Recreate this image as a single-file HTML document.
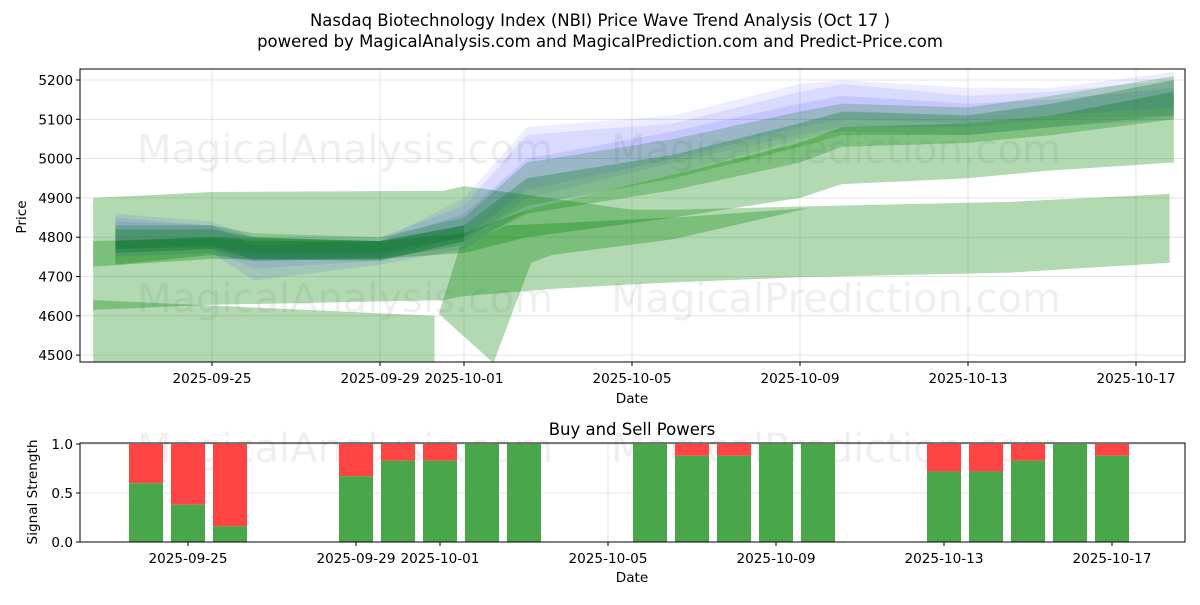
<!DOCTYPE html>
<html><head><meta charset="utf-8">
<style>
html,body{margin:0;padding:0;background:#fff;}
svg text{font-family:"DejaVu Sans","Liberation Sans",sans-serif;fill:#000;}
</style></head>
<body>
<svg id="chart" width="1200" height="600" viewBox="0 0 1200 600" xmlns="http://www.w3.org/2000/svg">
<text x="600" y="26" font-size="16.5" text-anchor="middle">Nasdaq Biotechnology Index (NBI) Price Wave Trend Analysis (Oct 17 )</text>
<text x="600" y="47" font-size="16.5" text-anchor="middle">powered by MagicalAnalysis.com and MagicalPrediction.com and Predict-Price.com</text>
<g id="main"></g>
<g id="sub"></g>
</svg>
<script>
// ---- data ----
const xTickLabels = ["2025-09-25","2025-09-29","2025-10-01","2025-10-05","2025-10-09","2025-10-13","2025-10-17"];
const xTickDays = [3,7,9,13,17,21,25]; // days since 2025-09-22
const yTicks = [4500,4600,4700,4800,4900,5000,5100,5200];
// light wide band
const wideBandDays = [0.17,3,8.5,9,11,13,14,17,22,25.8];
const wideBandUpper = [4900,4915,4918,4930,4900,4870,4870,4878,4890,4910];
const wideBandLower = [4615,4628,4640,4650,4668,4680,4685,4698,4710,4735];
const lowBandDays = [0.17,8.3];
const lowBandUpper = [4640,4600];
const lowBandLower = [4480,4480];
const steepUpDays = [8.4,8.9,10,14,17.2];
const steepUpper = [4605,4775,4830,4850,4874];
const steepLowDays = [9.7,10.6,11.1,14,17.2];
const steepLower = [4480,4735,4755,4795,4874];
// wave bands around trend
const waveDays = [0.7,3,4,7,9,10.5,14,17,18,21,23,25.9];
const green1Upper = [4790,4800,4790,4790,4810,4870,4960,5040,5080,5090,5110,5170];
const green1Lower = [4730,4755,4740,4745,4760,4800,4850,4900,4935,4950,4970,4990];
const green2Upper = [4820,4820,4800,4790,4830,4950,5010,5090,5120,5110,5140,5200];
const green2Lower = [4760,4770,4745,4745,4780,4860,4920,4990,5030,5040,5060,5100];
const green3Upper = [4830,4830,4810,4800,4850,4990,5050,5120,5140,5130,5160,5210];
const green3Lower = [4770,4775,4760,4760,4800,4880,4950,5030,5060,5060,5080,5110];
const blue1Upper = [4860,4840,4800,4800,4880,5060,5090,5170,5190,5160,5170,5200];
const blue1Lower = [4760,4770,4720,4740,4790,4900,4990,5060,5080,5080,5100,5110];
const blue2Upper = [4840,4830,4780,4790,4860,5000,5070,5140,5160,5140,5150,5180];
const blue2Lower = [4750,4760,4690,4730,4770,4870,4960,5050,5070,5060,5080,5100];
const blue3Upper = [4850,4830,4800,4790,4900,5080,5110,5190,5200,5180,5180,5220];
const blue3Lower = [4770,4780,4740,4750,4800,4920,5000,5080,5100,5090,5110,5130];
const stripeDays = [0.17,3,7,9];
const stripeUpper = [4790,4800,4790,4830];
const stripeLower = [4725,4745,4740,4790];
// buy/sell powers
const barDays = [2,3,4,7,8,9,10,11,14,15,16,17,18,21,22,23,24,25];
const buyPower = [0.6,0.38,0.16,0.67,0.83,0.83,1,1,1,0.88,0.88,1,1,0.72,0.72,0.83,1,0.88];
const sigTicks = [0,0.5,1];
const sigTickLabels = ["0.0","0.5","1.0"];

// ---- scales ----
const NS="http://www.w3.org/2000/svg";
const L=80,R=1185,T1=69,B1=362,T2=443,B2=542;
const FS=13.6;
const xs=d=>86+42*d;
const xs2=d=>62+42*d;
const ys=v=>80+(5200-v)*0.393;
const ys2=v=>542-98*v;
function el(tag,attrs,parent,txt){const e=document.createElementNS(NS,tag);for(const k in attrs)e.setAttribute(k,attrs[k]);if(txt!==undefined)e.textContent=txt;parent.appendChild(e);return e;}
const main=document.getElementById('main'), sub=document.getElementById('sub');
const defs=el('defs',{},main);
const cp=el('clipPath',{id:'c1'},defs); el('rect',{x:L,y:T1,width:R-L,height:B1-T1},cp);

// grid
for(const v of yTicks){const g=el('line',{x1:L,x2:R,y1:ys(v),y2:ys(v),stroke:'#ddd','stroke-width':0.8},main);

}
for(const v of sigTicks){const g=el('line',{x1:L,x2:R,y1:ys2(v),y2:ys2(v),stroke:'#ddd','stroke-width':0.8},sub);

}
for(const d of xTickDays){const g=el('line',{x1:xs(d),x2:xs(d),y1:T1,y2:B1,stroke:'#ddd','stroke-width':0.8},main);


const g2=el('line',{x1:xs2(d),x2:xs2(d),y1:T2,y2:B2,stroke:'#ddd','stroke-width':0.8},sub);

}

// watermarks
const wm=[[345,163,'MagicalAnalysis.com'],[836,163,'MagicalPrediction.com'],[345,312,'MagicalAnalysis.com'],[836,312,'MagicalPrediction.com'],[345,462,'MagicalAnalysis.com'],[836,462,'MagicalPrediction.com']];
for(const w of wm){const t=el('text',{x:w[0],y:w[1],'font-size':40,'text-anchor':'middle',style:'fill:#000;opacity:0.06'},w[1]>400?sub:main,w[2]);

}

const bands=el('g',{'clip-path':'url(#c1)'},main);
function band(dU,vU,dL,vL,color,op,name){
 let pts=dU.map((d,i)=>xs(d)+','+ys(vU[i]));
 for(let i=dL.length-1;i>=0;i--)pts.push(xs(dL[i])+','+ys(vL[i]));
 const p=el('polygon',{points:pts.join(' '),fill:color,'fill-opacity':op},bands);
 
 
}
band(wideBandDays,wideBandUpper,wideBandDays,wideBandLower,'#008000',0.3,'wide-band');
band(lowBandDays,lowBandUpper,lowBandDays,lowBandLower,'#008000',0.3,'low-band');
band(steepUpDays,steepUpper,steepLowDays,steepLower,'#008000',0.3,'steep-band');
band(stripeDays,stripeUpper,stripeDays,stripeLower,'#008000',0.3,'stripe-band');
band(waveDays,blue1Upper,waveDays,blue1Lower,'#0000ff',0.08,'blue-wave-1');
band(waveDays,green1Upper,waveDays,green1Lower,'#008000',0.3,'green-wave-1');
band(waveDays,blue2Upper,waveDays,blue2Lower,'#0000ff',0.09,'blue-wave-2');
band(waveDays,green2Upper,waveDays,green2Lower,'#008000',0.28,'green-wave-2');
band(waveDays,blue3Upper,waveDays,blue3Lower,'#0000ff',0.07,'blue-wave-3');
band(waveDays,green3Upper,waveDays,green3Lower,'#008000',0.22,'green-wave-3');

// axes main
const ax=el('rect',{x:L,y:T1,width:R-L,height:B1-T1,fill:'none',stroke:'#000','stroke-width':1},main);


for(const v of yTicks){el('line',{x1:L-4,x2:L,y1:ys(v),y2:ys(v),stroke:'#000'},main);
const t=el('text',{x:L-7,y:ys(v)+5,'font-size':FS,'text-anchor':'end'},main,String(v));

}
xTickDays.forEach((d,i)=>{el('line',{x1:xs(d),x2:xs(d),y1:B1,y2:B1+4,stroke:'#000'},main);
const t=el('text',{x:xs(d),y:B1+21,'font-size':FS,'text-anchor':'middle'},main,xTickLabels[i]);


el('line',{x1:xs2(d),x2:xs2(d),y1:B2,y2:B2+4,stroke:'#000'},sub);
const t2=el('text',{x:xs2(d),y:B2+21,'font-size':FS,'text-anchor':'middle'},sub,xTickLabels[i]);

});
let t=el('text',{x:632,y:403,'font-size':FS,'text-anchor':'middle'},main,'Date');


t=el('text',{x:26,y:217,'font-size':FS,'text-anchor':'middle',transform:'rotate(-90 26 217)'},main,'Price');



// sub chart
t=el('text',{x:632,y:435,'font-size':16.5,'text-anchor':'middle'},sub,'Buy and Sell Powers');


barDays.forEach((d,i)=>{
 const w=34,x=xs2(d)-w/2;
 const s=el('rect',{x:x,y:ys2(1),width:w,height:ys2(buyPower[i])-ys2(1),fill:'#ff4444'},sub);
 
 
 const b=el('rect',{x:x,y:ys2(buyPower[i]),width:w,height:ys2(0)-ys2(buyPower[i]),fill:'#4aa64a'},sub);
 
 
});
const ax2=el('rect',{x:L,y:T2,width:R-L,height:B2-T2,fill:'none',stroke:'#000','stroke-width':1},sub);


sigTicks.forEach((v,i)=>{el('line',{x1:L-4,x2:L,y1:ys2(v),y2:ys2(v),stroke:'#000'},sub);
const tt=el('text',{x:L-7,y:ys2(v)+5,'font-size':FS,'text-anchor':'end'},sub,sigTickLabels[i]);

});
t=el('text',{x:632,y:582,'font-size':FS,'text-anchor':'middle'},sub,'Date');


t=el('text',{x:37,y:492,'font-size':FS,'text-anchor':'middle',transform:'rotate(-90 37 492)'},sub,'Signal Strength');


</script>
</body></html>
